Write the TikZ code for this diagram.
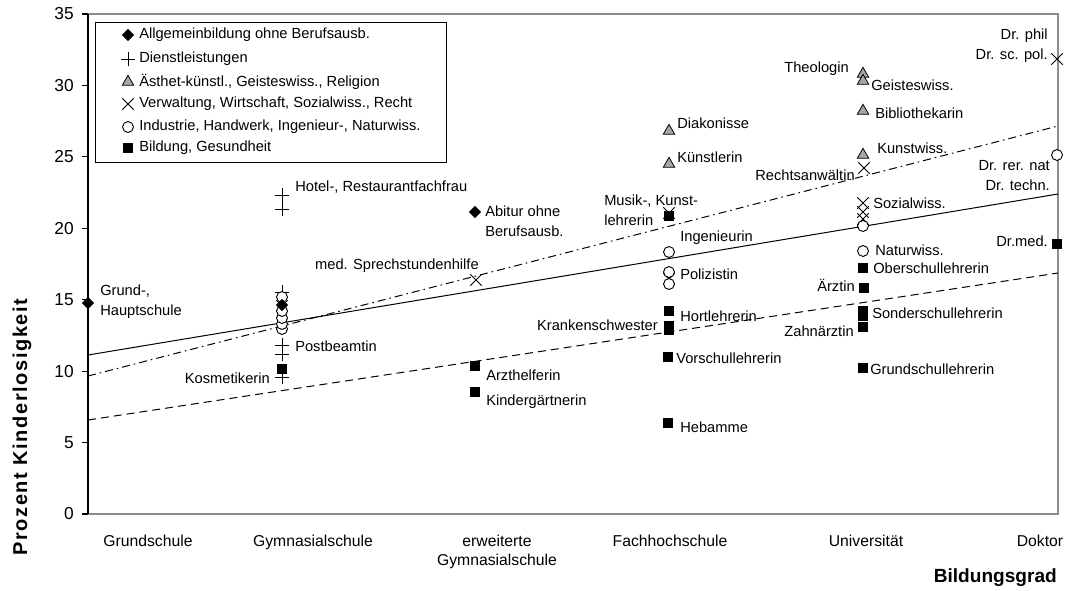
\documentclass[tikz,border=0pt]{standalone}
\usepackage{fontspec}
\setmainfont{Liberation Sans}
\usetikzlibrary{shapes.geometric,shapes.misc}
\tikzset{
  x=0.75pt, y=-0.75pt,
  mdia/.style={diamond, fill=black, inner sep=0pt, minimum size=9.5pt},
  msq/.style={rectangle, fill=black, inner sep=0pt, minimum size=6.9pt},
  mcirc/.style={circle, draw=black, fill=white, line width=0.7pt, inner sep=0pt, minimum size=8.2pt},
  mtri/.style={regular polygon, regular polygon sides=3, draw=black, fill=black!35, line width=0.6pt, inner sep=0pt, minimum size=10pt},
  mx/.style={cross out, draw=black, line width=0.7pt, inner sep=0pt, minimum size=7.8pt},
  mplus/.style={cross out, draw=black, line width=0.7pt, inner sep=0pt, minimum size=6.4pt, rotate=45},
  lbl/.style={inner sep=0pt, font=\fontsize{11}{15}\selectfont},
  tick/.style={inner sep=0pt, font=\fontsize{13}{14.5}\selectfont},
  cat/.style={inner sep=0pt, anchor=base, font=\fontsize{11.8}{14.5}\selectfont},
  ttl/.style={inner sep=0pt, font=\fontsize{14.3}{16}\selectfont\bfseries},
  frame/.style={draw=black!45, line width=0.9pt},
  trend/.style={line width=0.75pt},
}
\newcommand\mk[4]{\node[#2] (#1) at (#3,#4) {};}
\begin{document}
\begin{tikzpicture}
\useasboundingbox (0,0) rectangle (1067,590);
% plot frame
\coordinate (tl) at (88,14);
\coordinate (tr) at (1058,14);
\coordinate (br) at (1058,514);
\coordinate (bl) at (88,514);
\draw[frame] (tl) -- (tr) -- (br) -- (bl);
\draw[line width=0.9pt] (tl) -- (bl);
% y ticks and labels
\foreach \v in {0,5,...,35} {
  \draw[line width=0.8pt] (82,{514-\v*14.286}) -- (88,{514-\v*14.286});
  \node[tick, anchor=east] (yt\v) at (74,{514-\v*14.286}) {\v};
}
% category labels
\node[cat] (c1) at (148,546) {Grundschule};
\node[cat] (c2) at (313,546) {Gymnasialschule};
\node[cat] (c3a) at (497,546) {erweiterte};
\node[cat] (c3b) at (497,565) {Gymnasialschule};
\node[cat] (c4) at (670,546) {Fachhochschule};
\node[cat] (c5) at (866,546) {Universität};
\node[cat] (c6) at (1040,546) {Doktor};
% axis titles
\node[ttl, rotate=90, font=\fontsize{15}{16}\selectfont\bfseries\addfontfeature{LetterSpace=8}] (ytitle) at (22,427) {Prozent Kinderlosigkeit};
\node[ttl, anchor=east] (xtitle) at (1057,578) {Bildungsgrad};
% trend lines
\coordinate (s1) at (88,355); \coordinate (s2) at (1058,194);
\coordinate (d1) at (88,376); \coordinate (d2) at (1058,126);
\coordinate (e1) at (88,420); \coordinate (e2) at (1058,273);
\draw[trend] (s1) -- (s2);
\draw[trend, dash pattern=on 6pt off 3pt on 1.2pt off 3pt] (d1) -- (d2);
\draw[trend, dash pattern=on 6pt off 3.75pt] (e1) -- (e2);
% legend
\node[draw=black, line width=0.8pt, minimum width=263pt, minimum height=105pt, anchor=north west, inner sep=0pt] (legend) at (95,22) {};
\mk{L1}{mdia}{128}{35}  \node[lbl, anchor=west] (LT1) at (139,35) {Allgemeinbildung ohne Berufsausb.};
\mk{L2}{mplus}{128}{59} \node[lbl, anchor=west] (LT2) at (139,59) {Dienstleistungen};
\mk{L3}{mtri}{128}{82}  \node[lbl, anchor=west] (LT3) at (139,82) {Ästhet-künstl., Geisteswiss., Religion};
\mk{L4}{mx}{128}{104}   \node[lbl, anchor=west] (LT4) at (139,104) {Verwaltung, Wirtschaft, Sozialwiss., Recht};
\mk{L5}{mcirc}{128}{127}\node[lbl, anchor=west] (LT5) at (139,127) {Industrie, Handwerk, Ingenieur-, Naturwiss.};
\mk{L6}{msq}{128}{148}  \node[lbl, anchor=west] (LT6) at (139,148) {Bildung, Gesundheit};
% Grundschule
\mk{g1}{mdia}{88}{303}
\node[lbl, anchor=west, align=left] (lg1) at (100,302) {Grund-,\\Hauptschule};
% Gymnasialschule
\mk{y1}{mplus}{282}{195}
\mk{y2}{mplus}{282}{209}
\node[lbl, anchor=west] (ly1) at (295,187) {Hotel-, Restaurantfachfrau};
\mk{y3}{mplus}{282}{292}
\mk{y4}{mx}{282}{306}
\mk{y5}{mcirc}{282}{329}
\mk{y6}{mcirc}{282}{324}
\mk{y7}{mcirc}{282}{318}
\mk{y8}{mcirc}{282}{311}
\mk{y9}{mcirc}{282}{297}
\mk{y10}{mdia}{282}{305}
\mk{y11}{mplus}{282}{345}
\mk{y12}{mplus}{282}{354}
\node[lbl, anchor=west] (ly2) at (295,346) {Postbeamtin};
\mk{y13}{mplus}{282}{377}
\mk{y14}{msq}{282}{369}
\node[lbl, anchor=east] (ly3) at (270,378) {Kosmetikerin};
% erweiterte Gymnasialschule
\mk{e1m}{mdia}{475}{212}
\node[lbl, anchor=west, align=left] (le1) at (485,221) {Abitur ohne\\Berufsausb.};
\mk{e2m}{mx}{476}{280}
\node[lbl, anchor=east] (le2) at (479,266) {med. Sprechstundenhilfe};
\mk{e3m}{msq}{475}{366}
\node[lbl, anchor=west] (le3) at (486,375) {Arzthelferin};
\mk{e4m}{msq}{475}{392}
\node[lbl, anchor=west] (le4) at (486,402) {Kindergärtnerin};
% Fachhochschule
\mk{f1}{mtri}{669}{131}
\node[lbl, anchor=west] (lf1) at (677,123) {Diakonisse};
\mk{f2}{mtri}{669}{164}
\node[lbl, anchor=west] (lf2) at (677,157) {Künstlerin};
\mk{f3}{mx}{669}{213}
\mk{f4}{msq}{669}{216}
\node[lbl, anchor=west, align=left] (lf3) at (604,210) {Musik-, Kunst-\\lehrerin};
\mk{f5}{mcirc}{669}{252}
\node[lbl, anchor=west] (lf5) at (680,238) {Ingenieurin};
\mk{f6}{mx}{669}{279}
\mk{f7}{mcirc}{669}{272}
\mk{f8}{mcirc}{669}{284}
\node[lbl, anchor=west] (lf7) at (680,274) {Polizistin};
\mk{f9}{msq}{669}{311}
\node[lbl, anchor=west] (lf9) at (680,316) {Hortlehrerin};
\mk{f10}{msq}{669}{326}
\mk{f11}{msq}{669}{330}
\node[lbl, anchor=east] (lf10) at (658,325) {Krankenschwester};
\mk{f12}{msq}{668}{357}
\node[lbl, anchor=west] (lf12) at (676,358) {Vorschullehrerin};
\mk{f13}{msq}{668}{423}
\node[lbl, anchor=west] (lf13) at (680,427) {Hebamme};
% Universitaet
\mk{u1}{mtri}{863}{74}
\mk{u2}{mtri}{863}{81}
\node[lbl, anchor=east] (lu1) at (849,69) {Theologin};
\node[lbl, anchor=west] (lu2) at (871,85) {Geisteswiss.};
\mk{u3}{mtri}{863}{111}
\node[lbl, anchor=west] (lu3) at (875,113) {Bibliothekarin};
\mk{u4}{mtri}{863}{155}
\node[lbl, anchor=west] (lu4) at (877,148) {Kunstwiss.};
\mk{u5}{mx}{864}{168}
\node[lbl, anchor=east] (lu5) at (855,175) {Rechtsanwältin};
\mk{u6}{mx}{863}{203}
\mk{u7}{mx}{863}{212}
\mk{u8}{mx}{863}{219}
\node[lbl, anchor=west] (lu6) at (873,203) {Sozialwiss.};
\mk{u9}{mcirc}{863}{226}
\mk{u10}{mcirc}{863}{251}
\node[lbl, anchor=west] (lu10) at (875,250) {Naturwiss.};
\mk{u11}{msq}{863}{268}
\node[lbl, anchor=west] (lu11) at (873,268) {Oberschullehrerin};
\mk{u12}{msq}{864}{288}
\node[lbl, anchor=east] (lu12) at (855,285) {Ärztin};
\mk{u13}{msq}{863}{311}
\mk{u14}{msq}{863}{316}
\node[lbl, anchor=west] (lu13) at (872,313) {Sonderschullehrerin};
\mk{u15}{msq}{863}{327}
\node[lbl, anchor=east] (lu15) at (854,331) {Zahnärztin};
\mk{u16}{msq}{863}{368}
\node[lbl, anchor=west] (lu16) at (870,369) {Grundschullehrerin};
% Doktor
\mk{k1}{mx}{1057}{59}
\node[lbl, anchor=east, align=right] (lk1) at (1048,46) {Dr. phil\\Dr. sc. pol.};
\mk{k2}{mcirc}{1057}{155}
\node[lbl, anchor=east, align=right] (lk2) at (1050,176) {Dr. rer. nat\\Dr. techn.};
\mk{k3}{msq}{1057}{244}
\node[lbl, anchor=east] (lk3) at (1048,241) {Dr.med.};
\end{tikzpicture}
\end{document}
